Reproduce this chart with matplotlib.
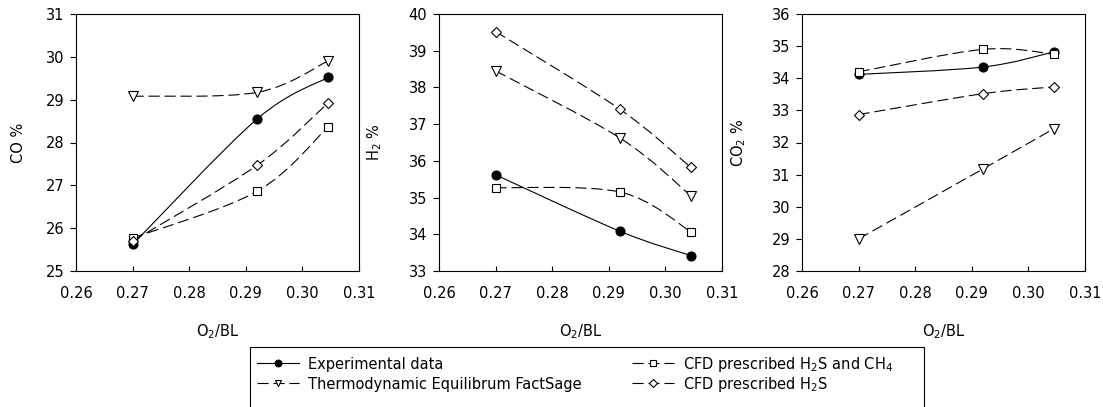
import numpy as np
import matplotlib
matplotlib.use("Agg")
import matplotlib.pyplot as plt
from matplotlib.path import Path
from matplotlib.patches import PathPatch, Rectangle
from matplotlib.lines import Line2D
from matplotlib.ticker import FormatStrFormatter, MultipleLocator

plt.rcParams['font.family'] = ['DejaVu Sans']
plt.rcParams['font.size'] = 10.5
plt.rcParams['lines.scale_dashes'] = False

# O2/BL ratio
o2_bl = [0.27, 0.292, 0.3045]

# CO %
co_exp = [25.62, 28.55, 29.52]
co_fact = [29.08, 29.17, 29.90]
co_cfd_h2s_ch4 = [25.77, 26.86, 28.36]
co_cfd_h2s = [25.70, 27.47, 28.92]

# H2 %
h2_exp = [35.62, 34.08, 33.42]
h2_fact = [38.45, 36.62, 35.05]
h2_cfd_h2s_ch4 = [35.27, 35.15, 34.07]
h2_cfd_h2s = [39.52, 37.40, 35.82]

# CO2 %
co2_exp = [34.12, 34.35, 34.82]
co2_fact = [29.00, 31.18, 32.43]
co2_cfd_h2s_ch4 = [34.20, 34.90, 34.75]
co2_cfd_h2s = [32.87, 33.52, 33.73]

ylabels = ['CO %', 'H$_2$ %', 'CO$_2$ %']
ylims = [(25, 31), (33, 40), (28, 36)]
xticks = [0.26, 0.27, 0.28, 0.29, 0.30, 0.31]

series_names = ['Experimental data', 'Thermodynamic Equilibrum FactSage',
                'CFD prescribed H$_2$S and CH$_4$', 'CFD prescribed H$_2$S']

DASH = (0, (8, 3.5))
styles = [
    dict(ls='-', marker='o', mfc='black'),
    dict(ls=DASH, marker='v', mfc='white'),
    dict(ls=DASH, marker='s', mfc='white'),
    dict(ls=DASH, marker='D', mfc='white'),
]
msizes = [6.5, 6.5, 6.0, 5.5]


def smooth_path(xs, ys):
    # excel-like smoothed line (catmull-rom as cubic bezier)
    pts = np.column_stack([xs, ys]).astype(float)
    n = len(pts)
    verts = [pts[0]]
    codes = [Path.MOVETO]
    for i in range(n - 1):
        p0 = pts[max(i - 1, 0)]
        p1 = pts[i]
        p2 = pts[i + 1]
        p3 = pts[min(i + 2, n - 1)]
        verts += [p1 + (p2 - p0) / 6, p2 - (p3 - p1) / 6, p2]
        codes += [Path.CURVE4] * 3
    return Path(verts, codes)


W, H = 1103, 407
fig = plt.figure(figsize=(W / 100, H / 100), dpi=100)

panels = [
    [co_exp, co_fact, co_cfd_h2s_ch4, co_cfd_h2s],
    [h2_exp, h2_fact, h2_cfd_h2s_ch4, h2_cfd_h2s],
    [co2_exp, co2_fact, co2_cfd_h2s_ch4, co2_cfd_h2s],
]
lefts = [76, 439, 802]
ylab_x = [-0.178, -0.194, -0.19]

for k in range(3):
    ax = fig.add_axes([lefts[k] / W, (H - 271) / H, 283 / W, 257 / H])
    for j, ys in enumerate(panels[k]):
        st = styles[j]
        ax.add_patch(PathPatch(smooth_path(o2_bl, ys), fill=False, ec='black',
                               lw=0.8, ls=st['ls'], zorder=2))
        ax.plot(o2_bl, ys, ls='none', marker=st['marker'], mfc=st['mfc'],
                mec='black', mew=0.8, ms=msizes[j], zorder=3)
    ax.set_xlim(0.26, 0.31)
    ax.set_ylim(*ylims[k])
    ax.set_xticks(xticks)
    ax.xaxis.set_major_formatter(FormatStrFormatter('%.2f'))
    ax.yaxis.set_major_locator(MultipleLocator(1))
    ax.tick_params(axis='x', direction='in', length=3.5, width=0.8, pad=11)
    ax.tick_params(axis='y', direction='out', length=4.5, width=0.8, pad=4)
    for sp in ax.spines.values():
        sp.set_linewidth(0.8)
    ax.set_ylabel(ylabels[k])
    ax.yaxis.set_label_coords(ylab_x[k], 0.5)
    ax.set_xlabel('O$_2$/BL')
    ax.xaxis.set_label_coords(0.5, -0.198)

# one legend entry per slot so rows line up
leg_kw = dict(loc='center left', frameon=False, borderpad=0, borderaxespad=0,
              handlelength=2.9, handletextpad=0.6, fontsize=10.5)
slot_x = [257, 257, 632, 632]
slot_y = [364, 384, 364, 384]
for j in range(4):
    st = styles[j]
    h = Line2D([], [], color='black', lw=0.8, ls=st['ls'],
               marker=st['marker'], mfc=st['mfc'], mec='black',
               mew=0.8, ms=msizes[j] * 0.75)
    fig.legend([h], [series_names[j]],
               bbox_to_anchor=(slot_x[j] / W, 1 - slot_y[j] / H), **leg_kw)

fig.add_artist(Rectangle((250 / W, -0.1), (924 - 250) / W, 0.1 + 1 - 347 / H,
                         transform=fig.transFigure, fill=False, ec='black',
                         lw=0.8))

fig.savefig('out.png', dpi=100)
